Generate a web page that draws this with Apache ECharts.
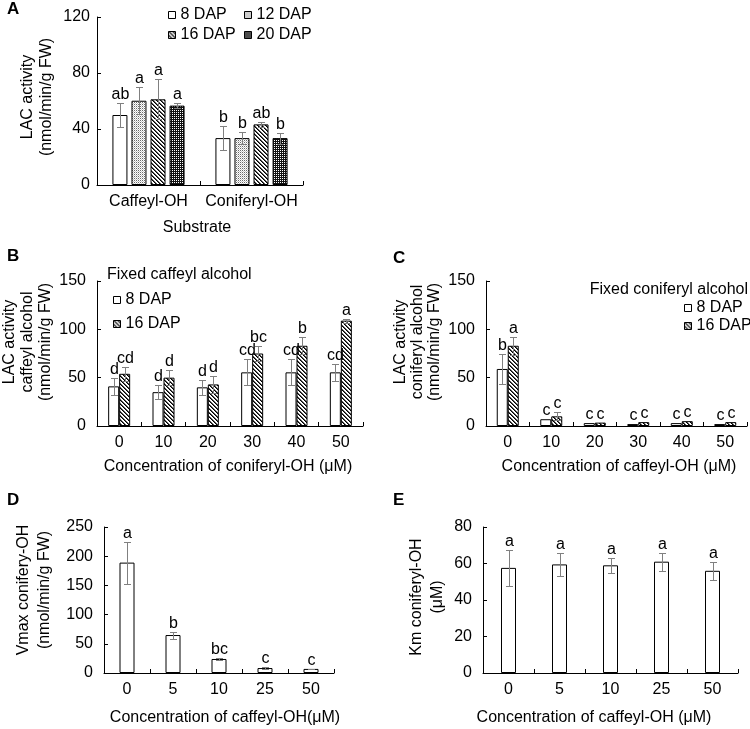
<!DOCTYPE html>
<html><head><meta charset="utf-8">
<script src="https://cdn.jsdelivr.net/npm/echarts@6/dist/echarts.min.js"></script>
<style>html,body{margin:0;padding:0;background:#fff}#c{width:750px;height:729px}</style>
</head><body><div id="c"></div>
<script>
// ---------- Panel A ----------
const categoriesA = ['Caffeyl-OH', 'Coniferyl-OH'];
const a8 = [50, 33.5];   const a8Err = [8.3, 8.5];  const a8Sig = ['ab', 'b'];
const a12 = [60.2, 33.5]; const a12Err = [9.5, 4.2]; const a12Sig = ['a', 'b'];
const a16 = [61.2, 43.3]; const a16Err = [14.3, 2]; const a16Sig = ['a', 'ab'];
const a20 = [56.7, 33.5]; const a20Err = [1.6, 4];  const a20Sig = ['a', 'b'];
// ---------- Panel B ----------
const concB = ['0', '10', '20', '30', '40', '50'];
const b8 = [41, 35, 40, 55.5, 55.5, 55.5];  const b8Err = [8.5, 7.5, 7.5, 13.5, 13.5, 9];  const b8Sig = ['d', 'd', 'd', 'cd', 'cd', 'cd'];
const b16 = [54, 50, 43, 75, 83, 109];      const b16Err = [7, 8, 9, 7.5, 9, 2];         const b16Sig = ['cd', 'd', 'd', 'bc', 'b', 'a'];
// ---------- Panel C ----------
const concC = ['0', '10', '20', '30', '40', '50'];
const c8 = [59, 7, 3, 2, 3, 2];        const c8Err = [16, 0, 0, 0, 0, 0];   const c8Sig = ['b', 'c', 'c', 'c', 'c', 'c'];
const c16 = [83, 10, 3.5, 4, 5, 4];    const c16Err = [9.5, 4, 0, 0, 0, 0]; const c16Sig = ['a', 'c', 'c', 'c', 'c', 'c'];
// ---------- Panel D ----------
const concD = ['0', '5', '10', '25', '50'];
const dVals = [189, 65, 24, 8.5, 7]; const dErr = [36, 6, 2.5, 1, 0.5]; const dSig = ['a', 'b', 'bc', 'c', 'c'];
// ---------- Panel E ----------
const concE = ['0', '5', '10', '25', '50'];
const eVals = [57.6, 59.5, 59, 61, 56]; const eErr = [9.7, 6.2, 4.2, 5, 4.8]; const eSig = ['a', 'a', 'a', 'a', 'a'];

const FONT = '"Liberation Sans", Arial, sans-serif';

function makePattern(size, fn) {
  const c = document.createElement('canvas');
  c.width = size; c.height = size;
  const ctx = c.getContext('2d');
  ctx.fillStyle = '#fff'; ctx.fillRect(0, 0, size, size);
  fn(ctx, size);
  return { image: c, repeat: 'repeat' };
}
const pDots = makePattern(2, (ctx) => { ctx.fillStyle = '#6a6a6a'; ctx.fillRect(0, 0, 1, 1); ctx.fillStyle = '#c8c8c8'; ctx.fillRect(1, 1, 1, 1); });
const pStripe = makePattern(4, (ctx, s) => {
  for (let x = 0; x < s; x++) for (let y = 0; y < s; y++) {
    const d = ((x - y) % s + s) % s;
    if (d === 0) { ctx.fillStyle = '#000'; ctx.fillRect(x, y, 1, 1); }
    else if (d === 1) { ctx.fillStyle = '#555'; ctx.fillRect(x, y, 1, 1); }
  }
});
const pDense = makePattern(2, (ctx) => { ctx.fillStyle = '#111'; ctx.fillRect(0, 0, 2, 2); ctx.fillStyle = '#fff'; ctx.fillRect(0, 0, 1, 1); });

const grids = [
  { left: 97, top: 17, width: 206, height: 168 },
  { left: 97, top: 281, width: 266, height: 145 },
  { left: 486, top: 281, width: 261, height: 145 },
  { left: 104, top: 527, width: 230, height: 146 },
  { left: 483, top: 527, width: 255, height: 146 }
];
const yCfg = [
  { max: 120, interval: 40 }, { max: 150, interval: 50 }, { max: 150, interval: 50 },
  { max: 250, interval: 50 }, { max: 80, interval: 20 }
];
const xCats = [categoriesA, concB, concC, concD, concE];

const axisLineStyle = { lineStyle: { color: '#000', width: 1 } };
const xAxes = xCats.map((cats, i) => ({
  type: 'category', gridIndex: i, data: cats,
  axisLine: Object.assign({ show: true }, axisLineStyle),
  axisTick: { show: true, inside: true, length: 4, lineStyle: { color: '#000' } },
  axisLabel: { color: '#000', fontSize: 16, fontFamily: FONT, margin: 9, interval: 0 },
  splitLine: { show: false }
}));
const yAxes = yCfg.map((c, i) => ({
  type: 'value', gridIndex: i, min: 0, max: c.max, interval: c.interval,
  axisLine: Object.assign({ show: true }, axisLineStyle),
  axisTick: { show: true, inside: true, length: 4, lineStyle: { color: '#000' } },
  axisLabel: { color: '#000', fontSize: 16, fontFamily: FONT, margin: i === 0 ? 7 : 11 },
  splitLine: { show: false }
}));

function barSeries(name, gi, vals, fill, bw, gap) {
  return {
    type: 'bar', name: name, xAxisIndex: gi, yAxisIndex: gi, data: vals,
    barWidth: bw, barGap: gap,
    itemStyle: { color: fill, borderColor: '#000', borderWidth: 1 },
    emphasis: { disabled: true }, animation: false
  };
}
function errSeries(gi, vals, errs, sigs, n, idx, bw, gapFrac) {
  return {
    type: 'custom', xAxisIndex: gi, yAxisIndex: gi, z: 10, silent: true, animation: false,
    data: vals.map((v, k) => [k, v, errs[k]]),
    renderItem: function (params, api) {
      const k = api.value(0), v = api.value(1), e = api.value(2);
      const c = api.coord([k, v]);
      const total = n * bw + (n - 1) * gapFrac * bw;
      const x = Math.round(c[0] - total / 2 + idx * bw * (1 + gapFrac) + bw / 2) + 0.5;
      const top = Math.round(api.coord([k, v + e])[1]) + 0.5;
      const bot = Math.round(api.coord([k, v - e])[1]) + 0.5;
      const cw = 3.5;
      const st = { stroke: '#808080', lineWidth: 1 };
      const children = [];
      if (e > 0) {
        children.push({ type: 'line', shape: { x1: x, y1: top, x2: x, y2: bot }, style: st });
        children.push({ type: 'line', shape: { x1: x - cw, y1: top, x2: x + cw, y2: top }, style: st });
        children.push({ type: 'line', shape: { x1: x - cw, y1: bot, x2: x + cw, y2: bot }, style: st });
      }
      children.push({ type: 'text', x: x, y: top - 1, style: { text: sigs[params.dataIndex], textAlign: 'center', textVerticalAlign: 'bottom', font: '16px ' + FONT, fill: '#000' } });
      return { type: 'group', children: children };
    }
  };
}

const series = [
  barSeries('8 DAP', 0, a8, '#fff', 15, '27%'),
  barSeries('12 DAP', 0, a12, pDots, 15, '27%'),
  barSeries('16 DAP', 0, a16, pStripe, 15, '27%'),
  barSeries('20 DAP', 0, a20, pDense, 15, '27%'),
  errSeries(0, a8, a8Err, a8Sig, 4, 0, 15, 0.27),
  errSeries(0, a12, a12Err, a12Sig, 4, 1, 15, 0.27),
  errSeries(0, a16, a16Err, a16Sig, 4, 2, 15, 0.27),
  errSeries(0, a20, a20Err, a20Sig, 4, 3, 15, 0.27),

  barSeries('8 DAP', 1, b8, '#fff', 11, '0%'),
  barSeries('16 DAP', 1, b16, pStripe, 11, '0%'),
  errSeries(1, b8, b8Err, b8Sig, 2, 0, 11, 0),
  errSeries(1, b16, b16Err, b16Sig, 2, 1, 11, 0),

  barSeries('8 DAP', 2, c8, '#fff', 11, '0%'),
  barSeries('16 DAP', 2, c16, pStripe, 11, '0%'),
  errSeries(2, c8, c8Err, c8Sig, 2, 0, 11, 0),
  errSeries(2, c16, c16Err, c16Sig, 2, 1, 11, 0),

  barSeries('Vmax', 3, dVals, '#fff', 15, '0%'),
  errSeries(3, dVals, dErr, dSig, 1, 0, 15, 0),

  barSeries('Km', 4, eVals, '#fff', 15, '0%'),
  errSeries(4, eVals, eErr, eSig, 1, 0, 15, 0)
];

function legendAt(name, left, top) {
  return {
    data: [name], left: left, top: top, padding: 0, itemWidth: 7, itemHeight: 7, icon: 'rect',
    itemGap: 0, selectedMode: false,
    itemStyle: { borderColor: '#000', borderWidth: 1 },
    textStyle: { color: '#000', fontSize: 16, fontFamily: FONT }
  };
}
const legends = [
  legendAt('8 DAP', 168, 7), legendAt('12 DAP', 244, 7),
  legendAt('16 DAP', 168, 27), legendAt('20 DAP', 244, 27),
  legendAt('8 DAP', 113, 292), legendAt('16 DAP', 113, 316),
  legendAt('8 DAP', 684, 300), legendAt('16 DAP', 684, 318)
];

function txt(text, x, y, opts) {
  opts = opts || {};
  return {
    type: 'text', x: x, y: y, rotation: opts.rot || 0, silent: true,
    style: {
      text: text, textAlign: opts.align || 'center', textVerticalAlign: 'middle',
      font: (opts.bold ? 'bold ' : '') + (opts.size || 16) + 'px ' + FONT,
      fill: '#000', lineHeight: opts.lh || 18
    }
  };
}
const R = Math.PI / 2;
const graphics = [
  txt('A', 7, 9, { bold: true, align: 'left', size: 17 }),
  txt('B', 7, 256, { bold: true, align: 'left', size: 17 }),
  txt('C', 393, 258, { bold: true, align: 'left', size: 17 }),
  txt('D', 7, 500, { bold: true, align: 'left', size: 17 }),
  txt('E', 393, 500, { bold: true, align: 'left', size: 17 }),
  txt('LAC activity\n(nmol/min/g FW)', 37.5, 97, { rot: R, lh: 19 }),
  txt('LAC activity\ncaffeyl alcohol\n(nmol/min/g FW)', 28, 342, { rot: R, lh: 18 }),
  txt('LAC activity\nconiferyl alcohol\n(nmol/min/g FW)', 418, 342, { rot: R, lh: 17 }),
  txt('Vmax conifery-OH\n(nmol/min/g FW)', 34.5, 590, { rot: R, lh: 21 }),
  txt('Km coniferyl-OH\n(μM)', 427.5, 597, { rot: R, lh: 21 }),
  txt('Substrate', 197, 228),
  txt('Concentration of coniferyl-OH (μM)', 228, 467),
  txt('Concentration of caffeyl-OH (μM)', 619, 467),
  txt('Concentration of caffeyl-OH(μM)', 225, 718),
  txt('Concentration of caffeyl-OH (μM)', 594, 718),
  txt('Fixed caffeyl alcohol', 107, 275, { align: 'left' }),
  txt('Fixed coniferyl alcohol', 748, 290, { align: 'right' })
];

const chart = echarts.init(document.getElementById('c'), null, { renderer: 'canvas' });
chart.setOption({
  backgroundColor: '#fff',
  animation: false,
  grid: grids,
  xAxis: xAxes,
  yAxis: yAxes,
  legend: legends,
  series: series,
  graphic: graphics
});
</script>
</body></html>
